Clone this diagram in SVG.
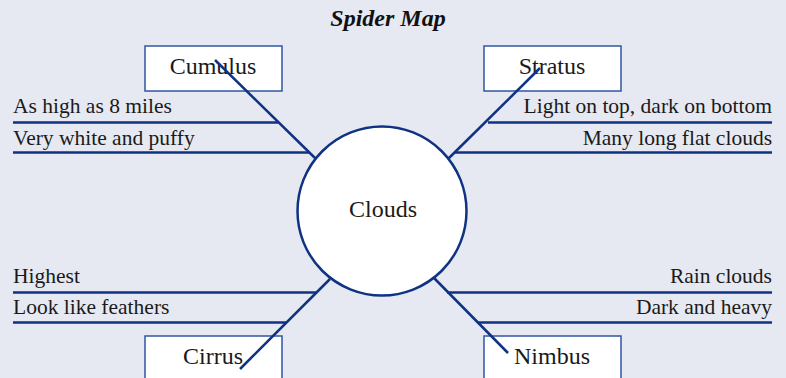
<svg xmlns="http://www.w3.org/2000/svg" width="786" height="378" viewBox="0 0 786 378">
<style>
.bg{fill:#e6e9f1}
.box{fill:#ffffff;stroke:#2f55a0;stroke-width:1.5}
.hub{fill:#ffffff;stroke:#0f3282;stroke-width:2.5}
.ln{stroke:#0f3282;stroke-width:2.5;fill:none;stroke-linecap:butt}
.t{font-family:"Liberation Serif",serif;font-size:21.5px;fill:#1a1a1a}
.n{font-family:"Liberation Serif",serif;font-size:24px;fill:#1a1a1a;text-anchor:middle}
.r{text-anchor:end}
.title{font-family:"Liberation Serif",serif;font-size:24px;font-weight:bold;font-style:italic;fill:#111;text-anchor:middle}
</style>
<rect class="bg" x="0" y="0" width="786" height="378"/>
<text class="title" x="388" y="26">Spider Map</text>
<g id="node-cumulus"><rect class="box" x="145" y="46" width="137" height="45"/><text class="n" x="213" y="74">Cumulus</text></g>
<g id="node-stratus"><rect class="box" x="484" y="46" width="137" height="45"/><text class="n" x="552" y="74">Stratus</text></g>
<g id="node-cirrus"><rect class="box" x="145" y="336" width="137" height="50"/><text class="n" x="213" y="364">Cirrus</text></g>
<g id="node-nimbus"><rect class="box" x="484" y="336" width="137" height="50"/><text class="n" x="552" y="364">Nimbus</text></g>
<g id="connectors">
<line class="ln" x1="215" y1="60" x2="315" y2="158"/>
<line class="ln" x1="13" y1="122.5" x2="278" y2="122.5"/>
<line class="ln" x1="13" y1="152.5" x2="309" y2="152.5"/>
<line class="ln" x1="540" y1="68" x2="449" y2="158"/>
<line class="ln" x1="488" y1="122.5" x2="772" y2="122.5"/>
<line class="ln" x1="455" y1="152.5" x2="772" y2="152.5"/>
<line class="ln" x1="330" y1="279" x2="240" y2="369"/>
<line class="ln" x1="13" y1="292.5" x2="317" y2="292.5"/>
<line class="ln" x1="13" y1="322.5" x2="286" y2="322.5"/>
<line class="ln" x1="434" y1="278" x2="508" y2="353"/>
<line class="ln" x1="447" y1="292.5" x2="772" y2="292.5"/>
<line class="ln" x1="478" y1="322.5" x2="772" y2="322.5"/>
</g>
<g id="node-clouds"><circle class="hub" cx="382" cy="211" r="84.5"/><text class="n" x="383" y="217">Clouds</text></g>
<g id="details">
<text class="t" x="13" y="113">As high as 8 miles</text>
<text class="t" x="13" y="145">Very white and puffy</text>
<text class="t r" x="772" y="113">Light on top, dark on bottom</text>
<text class="t r" x="772" y="145">Many long flat clouds</text>
<text class="t" x="13" y="283">Highest</text>
<text class="t" x="13" y="314">Look like feathers</text>
<text class="t r" x="772" y="283">Rain clouds</text>
<text class="t r" x="772" y="314">Dark and heavy</text>
</g>
</svg>
